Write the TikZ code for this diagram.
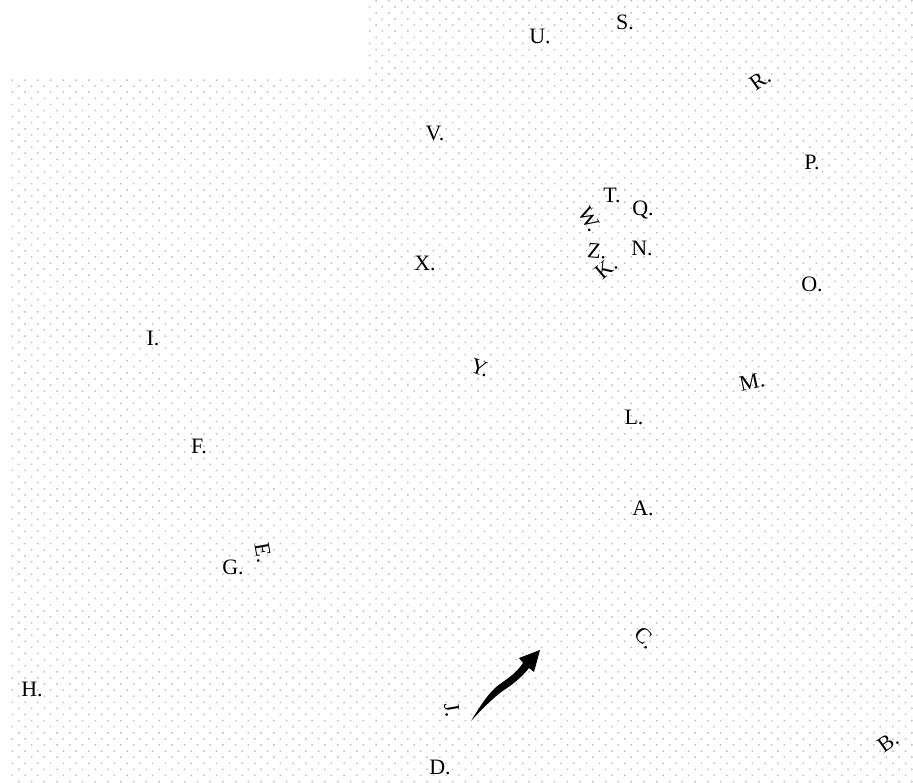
\documentclass[tikz,border=0pt]{standalone}
\usepackage{fontspec}
\setmainfont{Liberation Serif}
\usetikzlibrary{arrows.meta}
\definecolor{dotgray}{RGB}{190,190,190}
\tikzset{
  lbl/.style={font=\fontsize{22}{25}\selectfont, inner sep=0pt, anchor=center},
}
\begin{document}
\begin{tikzpicture}[x=1pt,y=-1pt]
\useasboundingbox (0,0) rectangle (913,783);
% dotted background
\foreach \j in {0,...,128} {
  \pgfmathtruncatemacro{\istart}{\j<13 ? 28 : 0}
  \pgfmathsetmacro{\xoff}{18-6.38*mod(\j,2)}
  \pgfmathsetmacro{\yy}{6.1*\j}
  \fill[dotgray] \foreach \i in {\istart,...,70} {
      ({\xoff+12.76*\i},\yy) rectangle +(1.5,1.5)
    };
}
% labels
\node[lbl] (nU) at (540,36) {U.};
\node[lbl] (nS) at (625,22) {S.};
\node[lbl,rotate=35] (nR) at (760,80) {R.};
\node[lbl] (nV) at (435,133) {V.};
\node[lbl] (nP) at (812,162) {P.};
\node[lbl] (nT) at (612,195) {T.};
\node[lbl] (nQ) at (643,210) {Q.};
\node[lbl,rotate=-60] (nW) at (590,219) {W.};
\node[lbl] (nN) at (642,248) {N.};
\node[lbl,rotate=-5] (nZ) at (597,251) {Z.};
\node[lbl,rotate=40] (nK) at (606,268) {K.};
\node[lbl] (nX) at (425,263) {X.};
\node[lbl] (nO) at (812,284) {O.};
\node[lbl] (nI) at (153,338) {I.};
\node[lbl,rotate=-20] (nY) at (480,368) {Y.};
\node[lbl,rotate=12] (nM) at (752,382) {M.};
\node[lbl] (nL) at (634,417) {L.};
\node[lbl] (nF) at (199,446) {F.};
\node[lbl] (nA) at (643,508) {A.};
\node[lbl,rotate=-80] (nE) at (263,553) {E.};
\node[lbl] (nG) at (233,567) {G.};
\node[lbl,rotate=-45] (nC) at (645,638) {C.};
\node[lbl] (nH) at (32,689) {H.};
\node[lbl,rotate=-80] (nJ) at (452,710) {J.};
\node[lbl] (nD) at (440,767) {D.};
\node[lbl,rotate=35] (nB) at (888,742) {B.};
% arrow
\fill[black] (471,721)
  .. controls (482,703) and (490,691) .. (500,684)
  .. controls (510,677) and (517,672) .. (523,663)
  -- (519,658) -- (540,650) -- (534,672) -- (529,668)
  .. controls (522,677) and (512,685) .. (504,690)
  .. controls (494,697) and (482,709) .. cycle;
\end{tikzpicture}
\end{document}
